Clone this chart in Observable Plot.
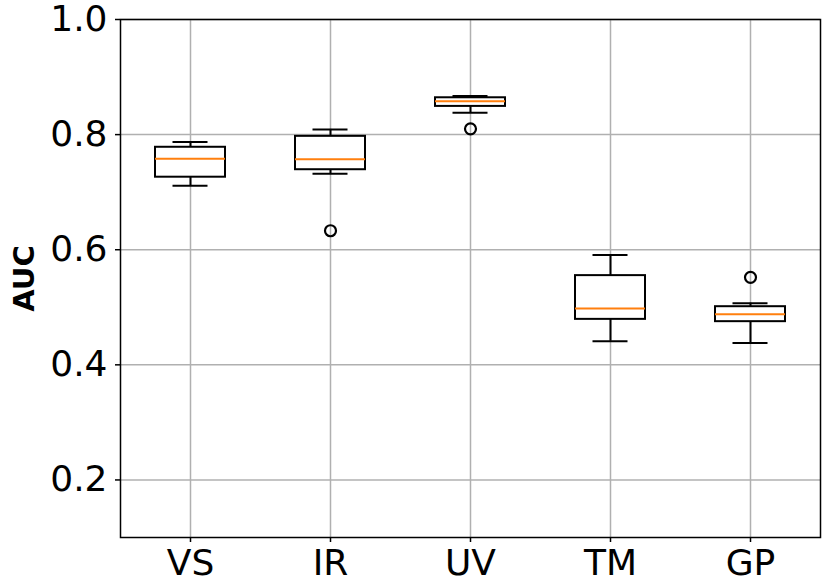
<!DOCTYPE html>
<html>
<head>
<meta charset="utf-8">
<script src="https://cdn.jsdelivr.net/npm/d3@7"></script>
<script src="https://cdn.jsdelivr.net/npm/@observablehq/plot@0.6"></script>
<style>
  html, body { margin: 0; padding: 0; background: white; }
  svg { font-family: "DejaVu Sans", sans-serif; }
</style>
</head>
<body>
<div id="chart"></div>
<script>
const categories = ["VS", "IR", "UV", "TM", "GP"];
const whiskerLow = [0.711, 0.732, 0.838, 0.441, 0.438];
const q1 = [0.726, 0.739, 0.849, 0.479, 0.475];
const median = [0.758, 0.757, 0.858, 0.498, 0.488];
const q3 = [0.778, 0.797, 0.864, 0.555, 0.501];
const whiskerHigh = [0.787, 0.809, 0.867, 0.591, 0.507];
const outlierCats = ["IR", "UV", "GP"];
const outlierVals = [0.633, 0.810, 0.552];
const yTicks = [0.2, 0.4, 0.6, 0.8, 1.0];

const boxes = categories.map((c, i) => ({
  cat: c, lo: whiskerLow[i], q1: q1[i], med: median[i], q3: q3[i], hi: whiskerHigh[i]
}));
const outliers = outlierCats.map((c, i) => ({cat: c, v: outlierVals[i]}));

const chart = Plot.plot({
  width: 830,
  height: 581,
  marginLeft: 120,
  marginRight: 10,
  marginTop: 19,
  marginBottom: 44,
  style: {fontFamily: "DejaVu Sans, sans-serif", background: "white"},
  x: {type: "band", domain: categories, paddingInner: 0.5, paddingOuter: 0.25},
  y: {domain: [0.1, 1.0]},
  marks: [
    Plot.gridX({stroke: "#b0b0b0", strokeOpacity: 1, strokeWidth: 1.5}),
    Plot.gridY(yTicks, {stroke: "#b0b0b0", strokeOpacity: 1, strokeWidth: 1.5}),
    Plot.ruleX(boxes, {x: "cat", y1: "lo", y2: "q1", stroke: "black", strokeWidth: 2}),
    Plot.ruleX(boxes, {x: "cat", y1: "q3", y2: "hi", stroke: "black", strokeWidth: 2}),
    Plot.tickY(boxes, {x: "cat", y: "lo", stroke: "black", strokeWidth: 2, insetLeft: 17.5, insetRight: 17.5}),
    Plot.tickY(boxes, {x: "cat", y: "hi", stroke: "black", strokeWidth: 2, insetLeft: 17.5, insetRight: 17.5}),
    Plot.barY(boxes, {x: "cat", y1: "q1", y2: "q3", fill: "white", stroke: "black", strokeWidth: 2}),
    Plot.tickY(boxes, {x: "cat", y: "med", stroke: "#ff7f0e", strokeWidth: 2}),
    Plot.dot(outliers, {x: "cat", y: "v", r: 5.5, stroke: "black", strokeWidth: 2.2, fill: "none"}),
    Plot.axisY(yTicks, {tickFormat: d3.format(".1f"), tickSize: 5, tickPadding: 8, fontSize: 36, label: null, stroke: "black", strokeWidth: 1.5}),
    Plot.axisX({tickSize: 5, tickPadding: 7, fontSize: 36, label: null, stroke: "black", strokeWidth: 1.5}),
    Plot.text(["AUC"], {frameAnchor: "left", dx: -96, rotate: -90, fontSize: 29, fontWeight: "bold", lineAnchor: "middle", textAnchor: "middle", fill: "black"}),
    Plot.frame({stroke: "black", strokeWidth: 1.5})
  ]
});
document.getElementById("chart").appendChild(chart);
</script>
</body>
</html>
